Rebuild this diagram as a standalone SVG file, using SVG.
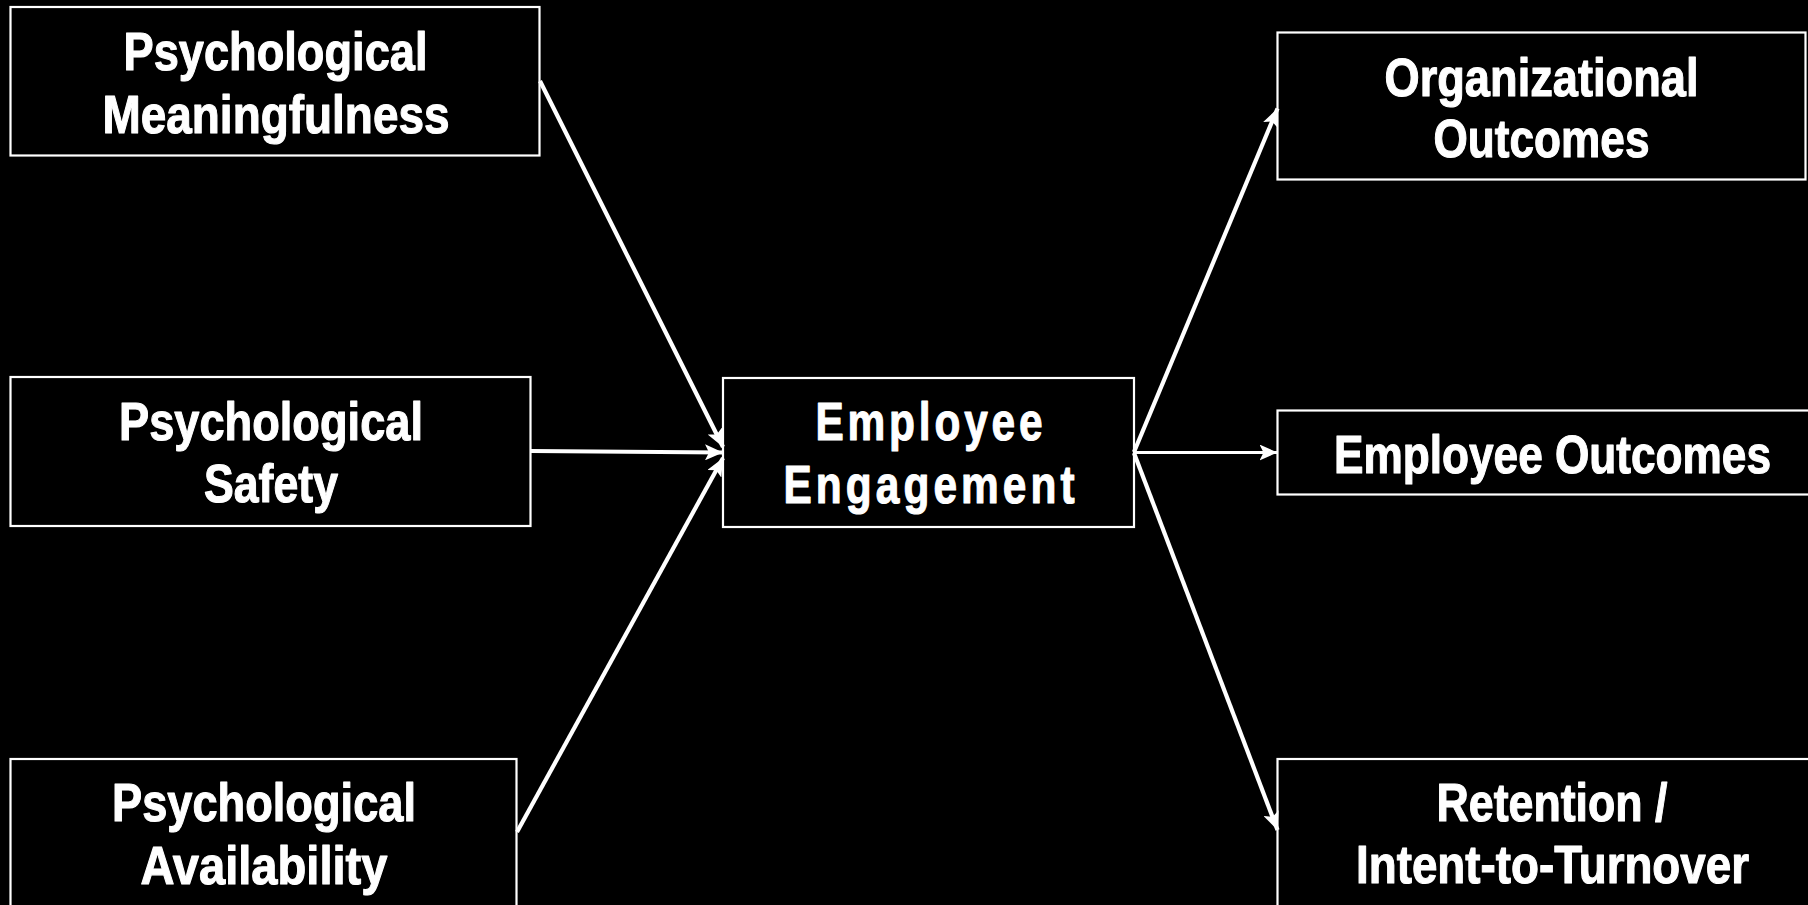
<svg xmlns="http://www.w3.org/2000/svg" width="1808" height="905" viewBox="0 0 1808 905">
  <defs>
    <style>
      .box { fill: #000; stroke: #fff; stroke-width: 2.2; }
      .lbl { fill: #fff; stroke: #fff; stroke-width: 1.1; stroke-linejoin: round; font-family: "Liberation Sans", Arial, sans-serif; font-weight: bold; font-size: 53px; text-anchor: middle; }
      .edge { stroke: #fff; stroke-width: 4.2; fill: none; }
      .thin { stroke-width: 2.8; }
    </style>
    <marker id="head" viewBox="0 0 18 16" refX="18" refY="8" markerWidth="18" markerHeight="16" markerUnits="userSpaceOnUse" orient="auto">
      <path d="M0,0 L18,8 L0,16 L4,8 Z" fill="#fff"/>
    </marker>
  </defs>
  <rect width="1808" height="905" fill="#000"/>

  <g id="meaningfulness">
    <rect class="box" x="10.5" y="7" width="529" height="148.5"/>
    <text class="lbl" x="275.5" y="70" textLength="304" lengthAdjust="spacingAndGlyphs">Psychological</text>
    <text class="lbl" x="276" y="133" textLength="347" lengthAdjust="spacingAndGlyphs">Meaningfulness</text>
  </g>

  <g id="safety">
    <rect class="box" x="10.5" y="377" width="520" height="149"/>
    <text class="lbl" x="271" y="440" textLength="304" lengthAdjust="spacingAndGlyphs">Psychological</text>
    <text class="lbl" x="271" y="502" textLength="134" lengthAdjust="spacingAndGlyphs">Safety</text>
  </g>

  <g id="availability">
    <rect class="box" x="10.5" y="759" width="506" height="160"/>
    <text class="lbl" x="264" y="821" textLength="304" lengthAdjust="spacingAndGlyphs">Psychological</text>
    <text class="lbl" x="264" y="884" textLength="247" lengthAdjust="spacingAndGlyphs">Availability</text>
  </g>

  <g id="engagement">
    <rect class="box" x="723" y="378" width="411" height="149"/>
    <text class="lbl" transform="translate(929,440) scale(0.8,1)" x="0" y="0" textLength="284" lengthAdjust="spacing">Employee</text>
    <text class="lbl" transform="translate(929,503) scale(0.8,1)" x="0" y="0" textLength="364" lengthAdjust="spacing">Engagement</text>
  </g>

  <g id="organizational">
    <rect class="box" x="1277.5" y="32.5" width="528" height="147"/>
    <text class="lbl" x="1541.5" y="96" textLength="314" lengthAdjust="spacingAndGlyphs">Organizational</text>
    <text class="lbl" x="1541.5" y="157" textLength="216" lengthAdjust="spacingAndGlyphs">Outcomes</text>
  </g>

  <g id="employee-outcomes">
    <rect class="box" x="1277.5" y="410.5" width="545" height="84"/>
    <text class="lbl" x="1552.5" y="473" textLength="437" lengthAdjust="spacingAndGlyphs">Employee Outcomes</text>
  </g>

  <g id="retention">
    <rect class="box" x="1277.5" y="759" width="545" height="160"/>
    <text class="lbl" x="1552" y="821" textLength="231" lengthAdjust="spacingAndGlyphs">Retention /</text>
    <text class="lbl" x="1552.5" y="883" textLength="393" lengthAdjust="spacingAndGlyphs">Intent-to-Turnover</text>
  </g>

  <g id="connectors">
    <line class="edge" x1="540" y1="81" x2="723" y2="447" marker-end="url(#head)"/>
    <line class="edge" x1="531" y1="451" x2="723" y2="452.5" marker-end="url(#head)"/>
    <line class="edge" x1="517" y1="832" x2="723" y2="458" marker-end="url(#head)"/>
    <line class="edge" x1="1134" y1="452" x2="1277.5" y2="108.5" marker-end="url(#head)"/>
    <line class="edge thin" x1="1134" y1="452.5" x2="1277.5" y2="452.5" marker-end="url(#head)"/>
    <line class="edge" x1="1134" y1="453" x2="1277.5" y2="830" marker-end="url(#head)"/>
  </g>
</svg>
